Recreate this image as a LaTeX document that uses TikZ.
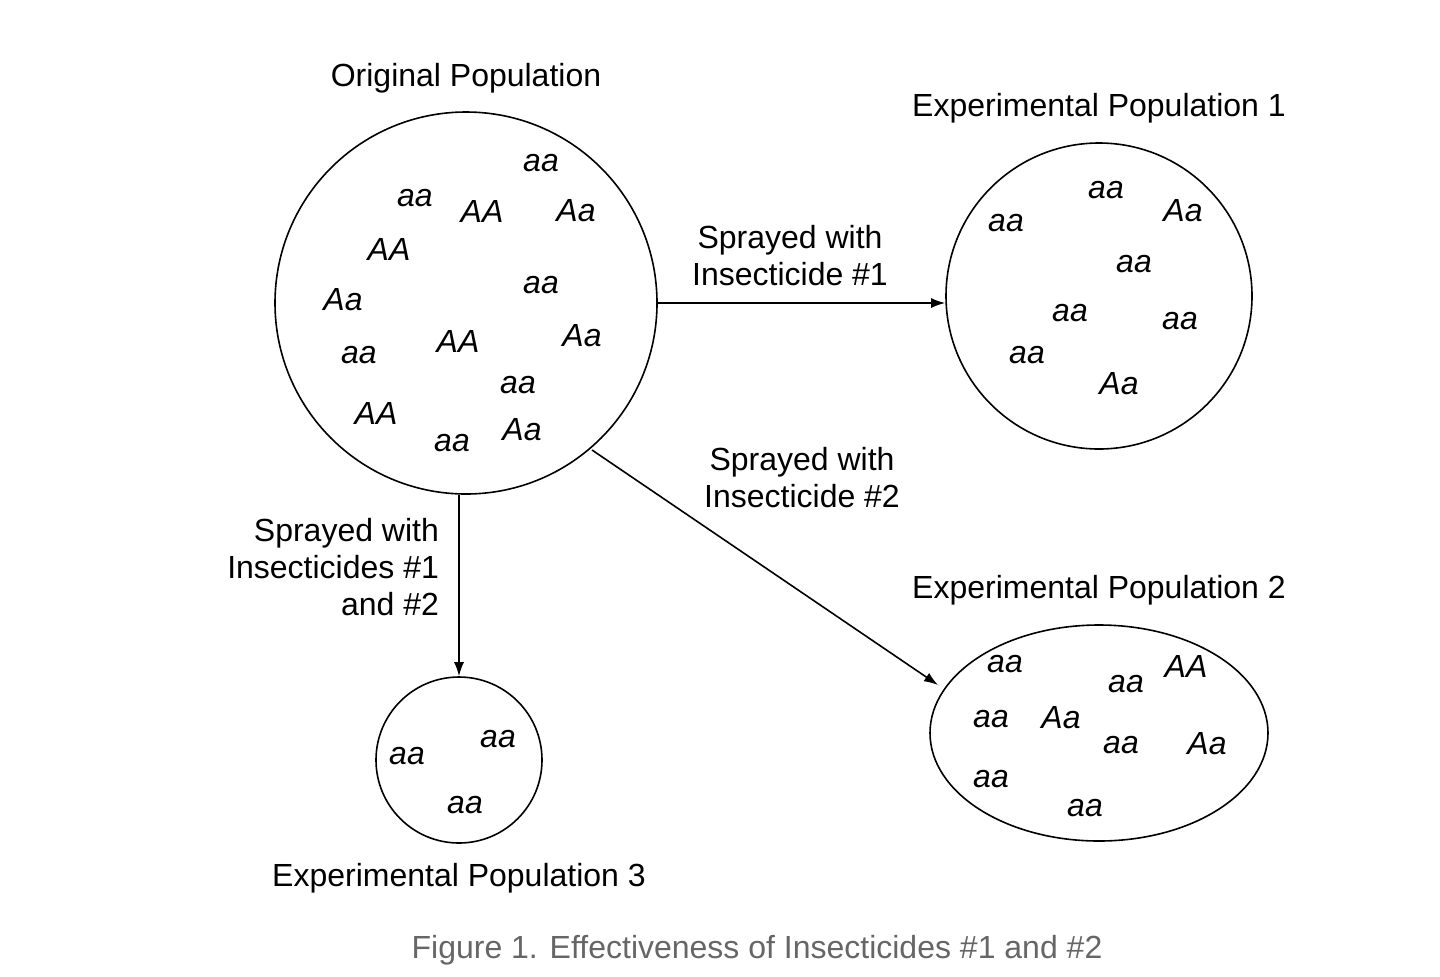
\documentclass[tikz,border=0pt]{standalone}
\usepackage{fontspec}
\setmainfont{Liberation Sans}
\usetikzlibrary{shapes.geometric,arrows.meta}
\begin{document}
\begin{tikzpicture}[
    x=0.5pt, y=-0.5pt,
    every node/.style = {
      align=center,
      font=\fontsize{16}{18.5}\selectfont
    },
    pop/.style = {draw, line width=0.8pt, inner sep=0pt},
    geno/.style = {font=\fontsize{16}{18}\selectfont\itshape},
    spray/.style = {-{Latex[length=7pt,width=5pt]}, line width=0.8pt}
  ]
    \useasboundingbox (0,0) rectangle (1440,976);
    % Populations
    \node[pop, circle, minimum size=191pt] (orig) at (466,303) {};
    \node[pop, circle, minimum size=153pt] (exp1) at (1099,296) {};
    \node[pop, ellipse, minimum width=169pt, minimum height=108pt] (exp2) at (1099,733) {};
    \node[pop, circle, minimum size=83pt] (exp3) at (459,760) {};
    % Titles
    \node (origT) at (466,78) {Original Population};
    \node (exp1T) at (1099,108) {Experimental Population 1};
    \node (exp2T) at (1099,590) {Experimental Population 2};
    \node (exp3T) at (459,878) {Experimental Population 3};
    \node[text=black!60] (caption) at (757,950) {Figure 1. Effectiveness of Insecticides \#1 and \#2};
    % Genotypes
    \foreach \g/\x/\y [count=\i] in {aa/541/163, aa/415/198, AA/482/211, Aa/576/211,
        AA/389/249, Aa/343/300, aa/541/285, aa/359/355, AA/458/341, Aa/582/336,
        aa/518/385, AA/376/413, aa/452/443, Aa/522/430,
        aa/1106/190, aa/1006/223, Aa/1183/211, aa/1134/264, aa/1070/313,
        aa/1180/321, aa/1027/355, Aa/1119/384,
        aa/1005/664, aa/1126/684, AA/1186/666, aa/991/719, Aa/1061/718,
        aa/1121/745, Aa/1207/744, aa/991/779, aa/1085/808,
        aa/407/756, aa/498/739, aa/465/805}
      \node[geno] (g\i) at (\x,\y) {\g};
    % Treatments
    \coordinate (o2) at (592,450);
    \coordinate (e2) at (938,685);
    \draw[spray] (orig.east) -- (orig.east -| exp1.west);
    \draw[spray] (o2) -- (e2);
    \draw[spray] (exp3.north |- orig.south) -- (exp3.north);
    \node (s1) at (790,256) {Sprayed with\\Insecticide \#1};
    \node (s2) at (802,478) {Sprayed with\\Insecticide \#2};
    \node[anchor=east, align=right] (s3) at (446,567) {Sprayed with\\Insecticides \#1\\and \#2};
\end{tikzpicture}
\end{document}
